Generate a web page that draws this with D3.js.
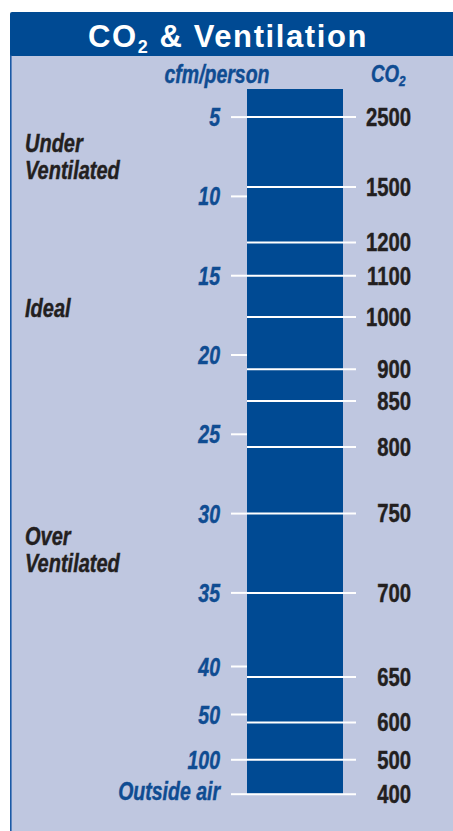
<!DOCTYPE html>
<html>
<head>
<meta charset="utf-8">
<script src="https://cdn.jsdelivr.net/npm/d3@7"></script>
<style>
  html, body { margin: 0; padding: 0; background: #ffffff; }
  svg { display: block; }
  .narrow { font-family: "Liberation Sans", Arial, Helvetica, sans-serif; font-weight: bold; }
</style>
</head>
<body>
<svg id="chart" width="453" height="831"></svg>
<script>
// ---- data ----
const OUTSIDE = "Outside air";
const cfmTicks = [5, 10, 15, 20, 25, 30, 35, 40, 50, 100, OUTSIDE];
const co2Ticks = [2500, 1500, 1200, 1100, 1000, 900, 850, 800, 750, 700, 650, 600, 500, 400];
// ventilation rate (cfm/person) at which each CO2 level sits on the gauge
const co2AtCfm = [5, 9.4, 12.9, 15, 17.6, 20.9, 22.9, 25.8, 30, 35, 42.2, 58.9, 100, OUTSIDE];
const zoneLabels = [["Under", "Ventilated"], ["Ideal"], ["Over", "Ventilated"]];
const zoneCfm = [7.5, 17.05, 32.3];
// gauge scale break points (cfm); the gauge is linear from 5 to 35 then compressed
const cfmBreaks = [5, 35, 40, 50, 100, OUTSIDE];

// ---- layout ----
const W = 453, H = 831;
const colors = { header: "#004a93", panel: "#bfc7e0", bar: "#004a93", blueText: "#0f4c92", dark: "#231f20", line: "#ffffff", border: "#1b5aa6" };
const barX = 247, barW = 96;
const SX = 0.78;       // horizontal condensing of the narrow type
const FS = 26;         // narrow type size
const svg = d3.select("#chart");

const OUT_KEY = 140;
const key = v => (v === OUTSIDE ? OUT_KEY : v);
const yCfm = d3.scaleLinear()
  .domain(cfmBreaks.map(key))
  .range([116.6, 592.4, 666, 714, 759.3, 793.7]);
const yPos = v => yCfm(key(v));

const yCo2 = d3.scaleLinear()
  .domain(co2Ticks)
  .range(co2AtCfm.map(yPos));

function narrowText(sel, x, y, sx = SX) {
  return sel.append("text").attr("class", "narrow")
    .attr("transform", `translate(${x},${y}) scale(${sx},1)`);
}
function heavy(sel, c) {
  return sel.attr("fill", c).attr("stroke", c).attr("stroke-width", 0.45);
}

// panel background
svg.append("rect").attr("x", 10).attr("y", 40).attr("width", W - 10).attr("height", H - 40).attr("fill", colors.panel);
svg.append("line").attr("x1", 10.8).attr("x2", 10.8).attr("y1", 40).attr("y2", H)
  .attr("stroke", colors.border).attr("stroke-width", 1.6);
// header
svg.append("rect").attr("x", 10).attr("y", 12).attr("width", W).attr("height", 44).attr("rx", 2).attr("fill", colors.header);

const title = svg.append("text").attr("x", 228).attr("y", 47)
  .attr("text-anchor", "middle")
  .style("font-family", "'Liberation Sans', Arial, Helvetica, sans-serif")
  .style("font-weight", "bold").style("font-size", "31px").style("letter-spacing", "1.6px")
  .attr("fill", "#ffffff");
title.append("tspan").text("CO");
title.append("tspan").text("2").attr("dy", 6).style("font-size", "18px");
title.append("tspan").text(" & Ventilation").attr("dy", -6);

// column headers
heavy(narrowText(svg, 217, 83).attr("text-anchor", "middle")
  .style("font-style", "italic").style("font-size", "25px"), colors.blueText).text("cfm/person");
const co2h = heavy(narrowText(svg, 371, 82)
  .style("font-style", "italic").style("font-size", "24px"), colors.blueText);
co2h.append("tspan").text("CO");
co2h.append("tspan").text("2").attr("dy", 4).style("font-size", "15px");

// bar
const barTop = yPos(5) - 27.6;
svg.append("rect").attr("x", barX).attr("y", barTop).attr("width", barW)
  .attr("height", yPos(OUTSIDE) - barTop).attr("fill", colors.bar);

// cfm axis (left)
const cfmAxis = d3.axisLeft(yCfm)
  .tickValues(cfmTicks.map(key))
  .tickSize(16).tickPadding(11)
  .tickFormat(v => (v === OUT_KEY ? OUTSIDE : v));
const gL = svg.append("g").attr("transform", `translate(${barX},0)`).call(cfmAxis);
gL.select(".domain").remove();
gL.selectAll(".tick line").attr("stroke", colors.line).attr("stroke-width", 2);
heavy(gL.selectAll(".tick text").attr("class", "narrow"), colors.blueText)
  .style("font-style", "italic").style("font-size", "25px")
  .attr("x", 0).attr("y", 0).attr("dy", "0.36em")
  .attr("transform", v => `translate(-27,${v === OUT_KEY ? -3.5 : 0}) scale(${SX},1)`);

// CO2 axis (right)
const co2Axis = d3.axisRight(yCo2).tickValues(co2Ticks).tickSize(109).tickFormat(d => d);
const gR = svg.append("g").attr("transform", `translate(${barX},0)`).call(co2Axis);
gR.select(".domain").remove();
gR.selectAll(".tick line").attr("stroke", colors.line).attr("stroke-width", 2);
heavy(gR.selectAll(".tick text").attr("class", "narrow"), colors.dark)
  .attr("text-anchor", "end").attr("x", 0).attr("y", 0).attr("dy", "0.34em")
  .attr("transform", `translate(164,0) scale(${SX},1)`)
  .style("font-size", FS + "px");

// zone labels
zoneLabels.forEach((lines, i) => {
  const cy = yPos(zoneCfm[i]);
  const lh = 27;
  lines.forEach((s, j) => {
    heavy(narrowText(svg, 25, cy + 9 + (j - (lines.length - 1) / 2) * lh, 0.8)
      .style("font-style", "italic").style("font-size", "25px"), colors.dark)
      .text(s);
  });
});
</script>
</body>
</html>
